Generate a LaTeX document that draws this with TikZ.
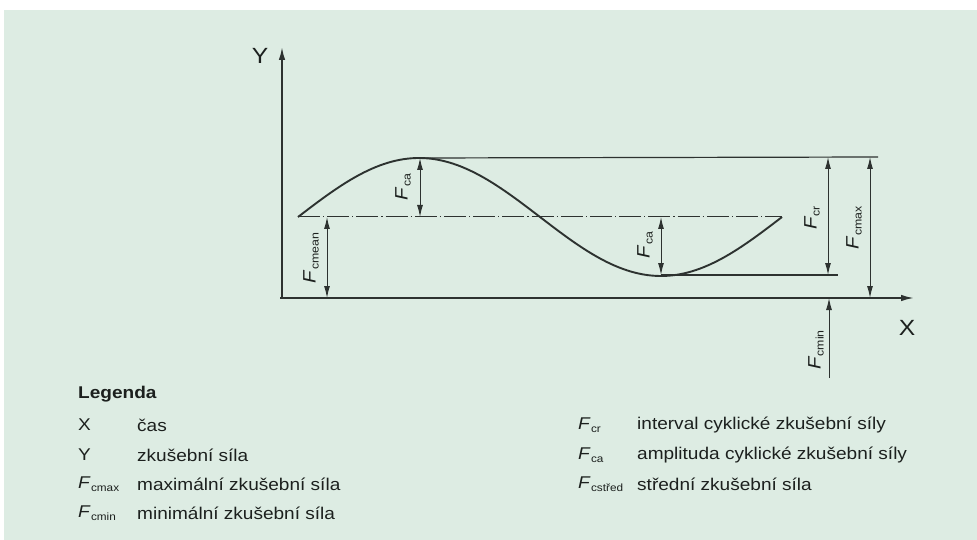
\documentclass[tikz,border=0pt]{standalone}
\usepackage{fontspec}
\setmainfont{Liberation Sans}[FakeStretch=1.12]
\usetikzlibrary{arrows.meta}
\definecolor{bg}{RGB}{221,236,227}
\definecolor{ink}{RGB}{45,50,48}
\definecolor{txt}{RGB}{28,32,30}
\newcommand{\Fsym}[1]{\textit{F}\kern0.02em\raisebox{-0.3ex}{\fontsize{10.5}{11}\selectfont #1}}
\newcommand{\Flab}[1]{\textit{F}\kern0.02em\raisebox{-0.3ex}{\fontsize{11}{12}\selectfont #1}}
\begin{document}
\begin{tikzpicture}[x=1pt,y=-1pt,
  axisline/.style={draw=ink,line width=1.7pt},
  curveline/.style={draw=ink,line width=1.9pt},
  refline/.style={draw=ink,line width=1.2pt},
  meanline/.style={draw=ink,line width=1pt,dash pattern=on 22pt off 3pt on 1.2pt off 3pt},
  dimline/.style={draw=ink,line width=1pt,{Latex[length=12pt,width=6pt]}-{Latex[length=12pt,width=6pt]}},
  dimup/.style={draw=ink,line width=1pt,-{Latex[length=12pt,width=6pt]}},
  dimlab/.style={rotate=90,text=txt,font=\fontsize{18}{19}\selectfont,inner sep=0pt},
  axlab/.style={text=txt,font=\fontsize{22}{23}\selectfont,inner sep=0pt},
  legsym/.style={anchor=west,text=txt,font=\fontsize{17}{18}\selectfont,inner sep=0pt},
  legtxt/.style={anchor=west,text=txt,font=\fontsize{17}{18}\selectfont,inner sep=0pt}
]
\useasboundingbox (0,0) rectangle (977,540);
\fill[white] (0,0) rectangle (977,540);
\fill[bg] (4,10) rectangle (977,540);

% coordinates
\coordinate (O) at (282,298);
\coordinate (Ytop) at (282,47);
\coordinate (X0) at (280,298);
\coordinate (Xend) at (914,298);
\coordinate (start) at (298,217);
\coordinate (peak) at (420,158);
\coordinate (trough) at (661,275);
\coordinate (meanend) at (782,217);
\coordinate (maxend) at (878,157);
\coordinate (minend) at (838,275);
\coordinate (crTop) at (828,157);
\coordinate (crBot) at (828,275);
\coordinate (maxTop) at (870,157);
\coordinate (maxBot) at (870,298);
\coordinate (meanTop) at (327,217);
\coordinate (meanBot) at (327,298);
\coordinate (caTop) at (420,158);
\coordinate (caBot) at (420,217);
\coordinate (ca2Top) at (661,217);
\coordinate (ca2Bot) at (661,275);
\coordinate (minTop) at (829,298);
\coordinate (minBot) at (829,378);

% axes
\draw[axisline,-{Latex[length=13pt,width=6.5pt]}] (O) -- (Ytop);
\draw[axisline,-{Latex[length=13pt,width=6.5pt]}] (X0) -- (Xend);
\node[axlab] (ylab) at (260,56) {Y};
\node[axlab] (xlab) at (907,328) {X};

% reference lines
\draw[refline] (peak) -- (maxend);
\draw[refline] (trough) -- (minend);
\draw[meanline] (start) -- (meanend);

% curve
\draw[curveline] plot[domain=0:484,samples=120] ({298+\x},{217-59*sin(\x/484*360)});

% dimension arrows
\draw[dimline] (caTop) -- (caBot);
\draw[dimline] (meanTop) -- (meanBot);
\draw[dimline] (ca2Top) -- (ca2Bot);
\draw[dimline] (crTop) -- (crBot);
\draw[dimline] (maxTop) -- (maxBot);
\draw[dimup] (minBot) -- (minTop);

\node[dimlab] (lca) at (403,187) {\Flab{ca}};
\node[dimlab] (lmean) at (311,258) {\Flab{cmean}};
\node[dimlab] (lca2) at (645,245) {\Flab{ca}};
\node[dimlab] (lcr) at (812,218) {\Flab{cr}};
\node[dimlab] (lmax) at (854,228) {\Flab{cmax}};
\node[dimlab] (lmin) at (816,350) {\Flab{cmin}};

% legend
\node[legsym,font=\bfseries\fontsize{17}{18}\selectfont] (leg) at (78,394) {Legenda};
\node[legsym] (s1) at (78,425) {X};
\node[legtxt] (t1) at (137,425) {čas};
\node[legsym] (s2) at (78,455) {Y};
\node[legtxt] (t2) at (137,455) {zkušební síla};
\node[legsym] (s3) at (78,484) {\Fsym{cmax}};
\node[legtxt] (t3) at (137,484) {maximální zkušební síla};
\node[legsym] (s4) at (78,513) {\Fsym{cmin}};
\node[legtxt] (t4) at (137,513) {minimální zkušební síla};

\node[legsym] (s5) at (578,425) {\Fsym{cr}};
\node[legtxt] (t5) at (637,425) {interval cyklické zkušební síly};
\node[legsym] (s6) at (578,455) {\Fsym{ca}};
\node[legtxt] (t6) at (637,455) {amplituda cyklické zkušební síly};
\node[legsym] (s7) at (578,484) {\Fsym{cstřed}};
\node[legtxt] (t7) at (637,484) {střední zkušební síla};
\end{tikzpicture}
\end{document}
